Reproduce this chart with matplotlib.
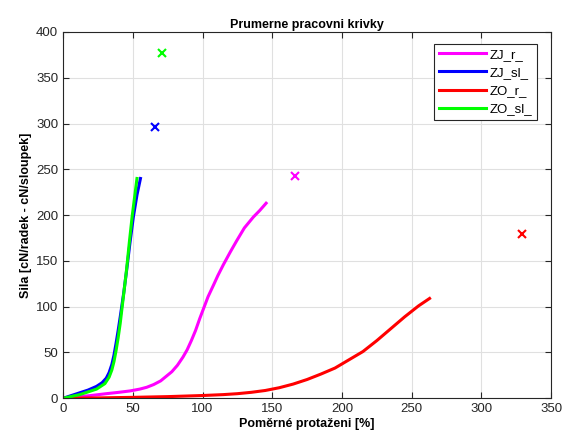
import matplotlib
matplotlib.use("Agg")
import numpy as np
from matplotlib import pyplot as plt

# prumerne krivky
zj_r_x = [0, 10, 20, 31, 40, 48, 55, 60, 65, 70, 74, 78, 82, 86, 89, 92, 95, 98, 101, 104, 108,
          111, 115, 120, 124.5, 130, 136.5, 141, 145.6]
zj_r_y = [0, 1.5, 3, 5, 6.5, 8, 10, 12, 15, 19, 24, 29, 36, 45, 53, 63, 74, 87, 99, 111, 124,
          134, 146, 160, 172, 186, 198, 205, 213]

zj_sl_x = [0, 6, 12, 18, 24, 28, 31, 33, 35, 36.5, 38, 39.5, 41, 43.5, 45.6, 48, 50.4, 53, 55.5]
zj_sl_y = [0, 3, 6, 9, 13, 17, 22, 28, 37, 47, 60, 74, 89, 115, 140, 170, 198, 222, 240]

zo_r_x = [0, 25, 50, 75, 100, 115, 125, 135, 145, 155, 165, 175, 185, 195, 205, 215, 225, 235,
          245, 255, 262.8]
zo_r_y = [0, 0.4, 1, 1.8, 3, 4, 5, 6.5, 8.5, 11.5, 15.5, 20.5, 26.5, 33, 42, 51, 63, 76,
          89, 101, 109]

zo_sl_x = [0, 6, 12, 18, 24, 30, 33, 35, 36.5, 38, 39.5, 41, 42, 43.5, 45.5, 47.5, 49.5, 51.5, 53]
zo_sl_y = [0, 2, 4, 7, 10, 16, 23, 31, 40, 52, 66, 82, 95, 114, 140, 170, 198, 222, 240]

# body pretrzeni
brk_x = [166.3, 65.9, 328.8, 70.9]
brk_y = [243, 296, 179, 377]

names = ["ZJ_r_", "ZJ_sl_", "ZO_r_", "ZO_sl_"]
colors = ["#ff00ff", "#0000ff", "#ff0000", "#00ff00"]

plt.rcParams['font.family'] = ['Liberation Sans', 'DejaVu Sans']
fig = plt.figure(figsize=(5.63, 4.44), dpi=100)
ax = fig.add_axes([0.112, 0.103, 0.867, 0.825])

curves = [(zj_r_x, zj_r_y), (zj_sl_x, zj_sl_y), (zo_r_x, zo_r_y), (zo_sl_x, zo_sl_y)]
for (x, y), c, n in zip(curves, colors, names):
    ax.plot(x, y, color=c, linewidth=2.2, label=n, solid_joinstyle='round')
for bx, by, c in zip(brk_x, brk_y, colors):
    ax.plot(bx, by, 'x', color=c, markersize=6, markeredgewidth=1.5)

ax.set_xlim(0, 350)
ax.set_ylim(0, 400)
ax.set_xticks(np.arange(0, 351, 50))
ax.set_yticks(np.arange(0, 401, 50))
ax.grid(True, color='#e0e0e0', linewidth=0.8)
ax.set_axisbelow(True)
ax.tick_params(direction='in', top=True, right=True, labelsize=9.5, colors='#262626', length=4)
for s in ax.spines.values():
    s.set_color('#262626')
    s.set_linewidth(0.8)

ax.set_title("Prumerne pracovni krivky", fontsize=9, fontweight='bold', pad=3)
ax.set_xlabel("Poměrné protaženi [%]", fontsize=9, fontweight='bold', labelpad=2)
ax.set_ylabel("Sila [cN/radek - cN/sloupek]", fontsize=9, fontweight='bold', labelpad=3)

leg = ax.legend(loc='upper right', fontsize=9.5, handlelength=3.6, fancybox=False,
                edgecolor='#262626', framealpha=1, borderpad=0.35, labelspacing=0.45,
                handletextpad=0.3, bbox_to_anchor=(0.985, 0.985))
leg.get_frame().set_linewidth(0.8)

fig.savefig("out.png", dpi=100)
